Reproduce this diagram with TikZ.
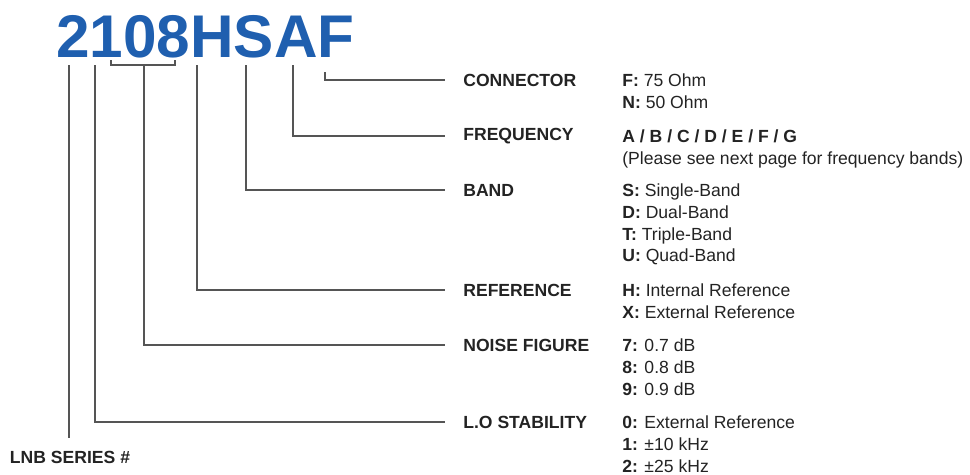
\documentclass[tikz,border=0pt]{standalone}
\usepackage{fontspec}
\setmainfont{Liberation Sans}
\usetikzlibrary{positioning,calc}
\definecolor{codeblue}{RGB}{31, 95, 175}
\definecolor{textgray}{RGB}{35, 35, 35}
\definecolor{linegray}{RGB}{85, 85, 85}

\begin{document}
\begin{tikzpicture}[x=0.02cm, y=-0.02cm,
    every node/.style={font=\fontsize{10}{12.5}\selectfont, text=textgray},
    field/.style={anchor=west, inner xsep=0.36cm, inner ysep=0pt, font=\fontsize{10}{12.5}\selectfont\bfseries},
    options/.style={anchor=north west, align=left, inner sep=0pt},
    leader/.style={draw=linegray, line width=0.8pt}]
    \useasboundingbox (0,0) rectangle (970,474);

    % Part number
    \node[anchor=base west, inner sep=0pt, font=\fontsize{34.3}{35}\selectfont\bfseries, text=codeblue] (code) at (56,57) {2108HSAF};
    \coordinate (l2) at (69,65);
    \coordinate (l1) at (95,65);
    \coordinate (l08) at (144,65);
    \coordinate (lH) at (197,65);
    \coordinate (lS) at (246,65);
    \coordinate (lA) at (293,65);
    \coordinate (lF) at (325,72);
    % bracket under 08
    \draw[leader] (111,60) -- (111,65) -- (175,65) -- (175,60);

    % Fields
    \node[field] (conn) at (445,80) {CONNECTOR};
    \node[field] (freq) at (445,136) {FREQUENCY};
    \node[field] (band) at (445,190) {BAND};
    \node[field] (ref) at (445,290) {REFERENCE};
    \node[field] (noise) at (445,345) {NOISE FIGURE};
    \node[field] (lo) at (445,422) {L.O STABILITY};
    \node[font=\fontsize{10}{12.5}\selectfont\bfseries, inner xsep=0pt, inner ysep=0.24cm] (lnb) at (70,457) {LNB SERIES \#};

    % Options
    \node[options] (connopt) at (622,73) {\textbf{F:} 75 Ohm\\\textbf{N:} 50 Ohm};
    \node[options] (freqopt) at (622,129) {\textbf{A / B / C / D / E / F / G}\\(Please see next page for frequency bands)};
    \node[options] (bandopt) at (622,183) {\textbf{S:} Single-Band\\\textbf{D:} Dual-Band\\\textbf{T:} Triple-Band\\\textbf{U:} Quad-Band};
    \node[options] (refopt) at (622,283) {\textbf{H:} Internal Reference\\\textbf{X:} External Reference};
    \node[options] (noiseopt) at (622,338) {\textbf{7:} 0.7 dB\\\textbf{8:} 0.8 dB\\\textbf{9:} 0.9 dB};
    \node[options] (loopt) at (622,415) {\textbf{0:} External Reference\\\textbf{1:} ±10 kHz\\\textbf{2:} ±25 kHz};

    % Leaders
    \draw[leader] (lF) |- (conn.west);
    \draw[leader] (lA) |- (freq.west);
    \draw[leader] (lS) |- (band.west);
    \draw[leader] (lH) |- (ref.west);
    \draw[leader] (l08) |- (noise.west);
    \draw[leader] (l1) |- (lo.west);
    \draw[leader] (l2) -- (l2 |- lnb.north);
\end{tikzpicture}
\end{document}
